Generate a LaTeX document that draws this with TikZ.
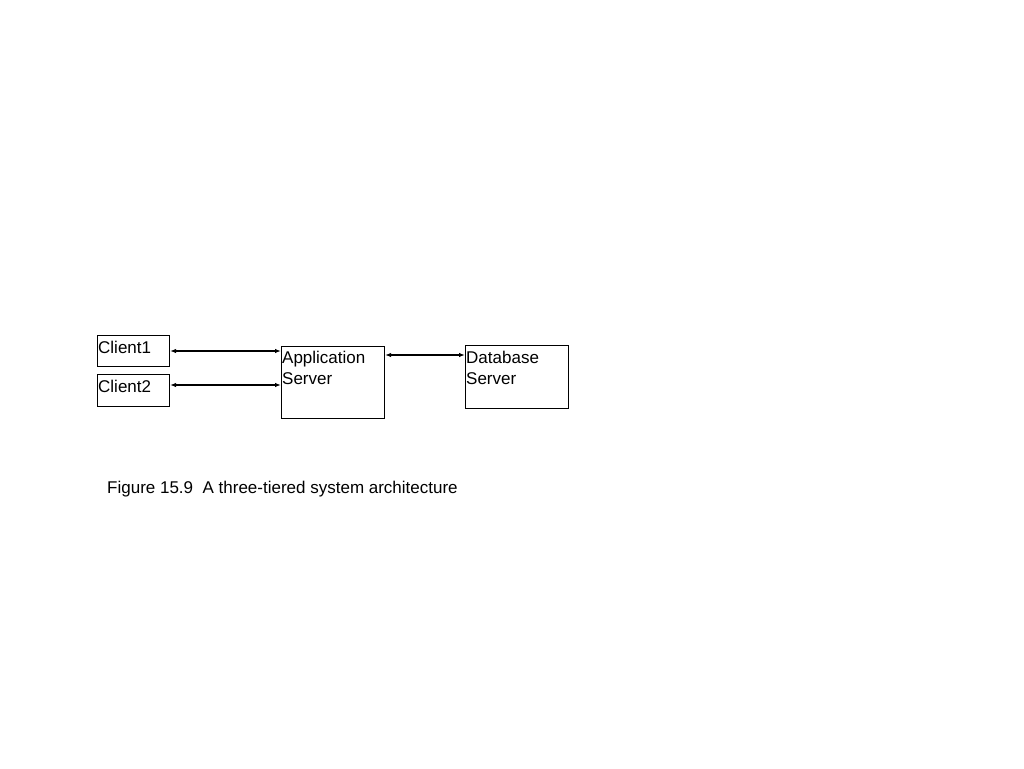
\documentclass[tikz,border=0pt]{standalone}
\usepackage{fontspec}
\setmainfont{Liberation Sans}
\usetikzlibrary{arrows.meta}
\begin{document}
\begin{tikzpicture}[x=1pt,y=-1pt,
  box/.style={draw=black, line width=1.1pt, inner sep=0pt, anchor=north west},
  boxtext/.style={anchor=north west, inner sep=0pt, align=left, font=\fontsize{17}{20.7}\selectfont},
  link/.style={line width=1.2pt, {Latex[length=6pt,width=4.5pt]}-{Latex[length=6pt,width=4.5pt]}}]
\useasboundingbox (0,0) rectangle (1024,768);
\node[box, minimum width=72pt, minimum height=31pt] (c1) at (97,335) {};
\node[box, minimum width=72pt, minimum height=32pt] (c2) at (97,374) {};
\node[box, minimum width=103pt, minimum height=72pt] (app) at (281,346) {};
\node[box, minimum width=103pt, minimum height=63pt] (db) at (465,345) {};
\node[boxtext] (t1) at ([shift={(1,6)}]c1.north west) {Client1};
\node[boxtext] (t2) at ([shift={(1,6)}]c2.north west) {Client2};
\node[boxtext] (t3) at ([shift={(1,5)}]app.north west) {Application\\Server};
\node[boxtext] (t4) at ([shift={(1,6)}]db.north west) {Database\\Server};
\draw[link] ([yshift=-16]c1.north east) -- ([yshift=-16]c1.north east -| app.west);
\draw[link] ([yshift=-11]c2.north east) -- ([yshift=-11]c2.north east -| app.west);
\draw[link] ([yshift=-9]app.north east) -- ([yshift=-9]app.north east -| db.west);
\node[anchor=base west, inner sep=0pt, font=\fontsize{17}{20}\selectfont] (cap) at (107,493) {Figure 15.9\ \ A three-tiered system architecture};
\end{tikzpicture}
\end{document}
